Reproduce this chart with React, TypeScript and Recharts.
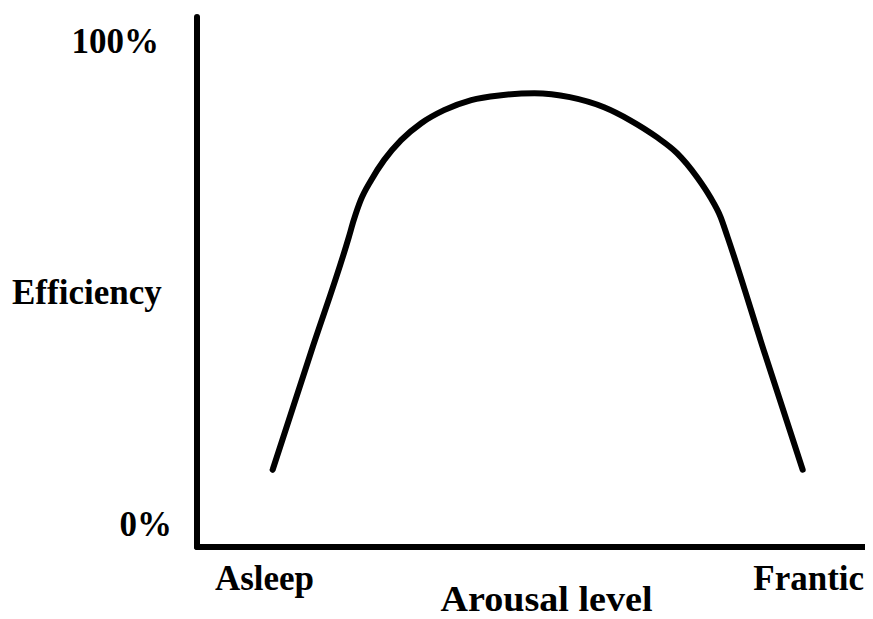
import React from 'react';
import { LineChart, Line, XAxis, YAxis, Label } from 'recharts';

// arousal level (0 = asleep, 100 = frantic) and efficiency (%)
const arousal = [1.5, 8.5, 15.5, 16.4, 17.7, 19.6, 22.0, 25.1, 28.8, 33.0, 38.0, 43.5, 49.6, 56.1, 62.4, 67.2, 72.1, 75.8, 79.5, 81.9, 83.8, 85.1, 91.9, 98.9];
const efficiency = [11.2, 35.4, 59.4, 62.9, 67.1, 71.2, 75.4, 79.5, 83.0, 85.7, 87.8, 88.8, 89.2, 88.4, 86.3, 83.6, 80.1, 76.8, 71.8, 67.7, 63.6, 59.4, 35.4, 11.2];

const xTickValues = [0, 100];
const xTickLabels = ['Asleep', 'Frantic'];
const yTickValues = [0, 100];
const yTickLabels = ['0%', '100%'];

const data = arousal.map((a, i) => ({ arousal: a, efficiency: efficiency[i] }));

const textStyle: React.CSSProperties = {
  fontFamily: "'Liberation Serif', 'Times New Roman', 'DejaVu Serif', serif",
  fontWeight: 'bold',
  fontSize: 35,
  fill: '#000',
};

const XTick = (props: any) => {
  const { x, y, payload } = props;
  const idx = xTickValues.indexOf(payload.value);
  return (
    <text x={x} y={y + 43} textAnchor="middle" style={textStyle}>
      {xTickLabels[idx]}
    </text>
  );
};

const YTick = (props: any) => {
  const { x, y, payload } = props;
  const idx = yTickValues.indexOf(payload.value);
  const dx = payload.value === 100 ? -38 : -25;
  return (
    <text x={x + dx} y={y + 12} textAnchor="end" style={textStyle}>
      {yTickLabels[idx]}
    </text>
  );
};

export default function App() {
  return (
    <LineChart width={865} height={611} data={data} margin={{ top: 9, right: 5, bottom: 0, left: 0 }}>
      <XAxis
        dataKey="arousal"
        type="number"
        domain={[-12.4, 110.9]}
        ticks={xTickValues}
        tick={<XTick />}
        tickLine={false}
        tickSize={0}
        tickMargin={0}
        height={72}
        axisLine={{ stroke: '#000', strokeWidth: 6, strokeLinecap: 'round' }}
        allowDataOverflow
      >
        <Label
          content={(p: any) => (
            <text
              x={p.viewBox.x + p.viewBox.width / 2 + 14}
              y={p.viewBox.y + 64}
              textAnchor="middle"
              textLength={212}
              lengthAdjust="spacingAndGlyphs"
              style={textStyle}
            >
              Arousal level
            </text>
          )}
        />
      </XAxis>
      <YAxis
        type="number"
        domain={[-4.8, 105]}
        ticks={yTickValues}
        tick={<YTick />}
        tickLine={false}
        tickSize={0}
        tickMargin={0}
        width={189}
        axisLine={{ stroke: '#000', strokeWidth: 6, strokeLinecap: 'round' }}
        allowDataOverflow
      >
        <Label
          content={() => (
            <text x={4} y={296} textAnchor="start" style={textStyle}>
              Efficiency
            </text>
          )}
        />
      </YAxis>
      <Line
        type="monotone"
        dataKey="efficiency"
        stroke="#000"
        strokeWidth={6}
        strokeLinecap="round"
        dot={false}
        activeDot={false}
        isAnimationActive={false}
      />
    </LineChart>
  );
}
